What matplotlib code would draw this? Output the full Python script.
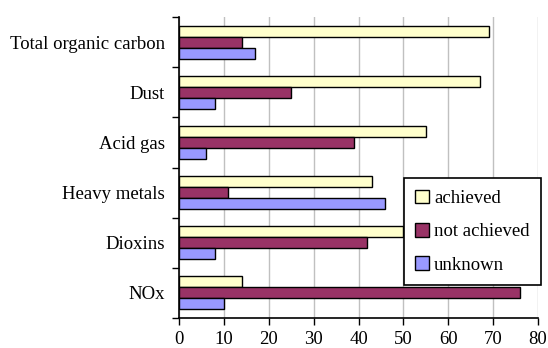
import matplotlib.pyplot as plt
import numpy as np

plt.rcParams['font.family'] = ['Liberation Serif', 'DejaVu Serif']

categories = ["NOx", "Dioxins", "Heavy metals", "Acid gas", "Dust", "Total organic carbon"]
achieved = [14, 50, 43, 55, 67, 69]
not_achieved = [76, 42, 11, 39, 25, 14]
unknown = [10, 8, 46, 6, 8, 17]

y = np.arange(len(categories))
h = 0.22

fig = plt.figure(figsize=(5.48, 3.48), dpi=100)
ax = fig.add_axes([179/548, 1 - 318/348, 359/548, 301/348])

ax.barh(y + h, achieved, h, color="#FFFFCC", edgecolor="black", linewidth=1, label="achieved", zorder=3)
ax.barh(y, not_achieved, h, color="#993366", edgecolor="black", linewidth=1, label="not achieved", zorder=3)
ax.barh(y - h, unknown, h, color="#9999FF", edgecolor="black", linewidth=1, label="unknown", zorder=3)

ax.set_xlim(0, 80)
ax.set_ylim(-0.5, 5.5)
ax.set_xticks(np.arange(0, 81, 10))
ax.set_yticks(y)
ax.set_yticklabels(categories)
ax.set_yticks(np.arange(-0.5, 6, 1), minor=True)
ax.tick_params(axis="y", which="major", length=0, labelsize=13.5, pad=10)
ax.tick_params(axis="y", which="minor", length=5, direction="out", width=1)
ax.tick_params(axis="x", length=5, direction="out", labelsize=13.5, width=1, pad=4)

ax.grid(axis="x", color="#c0c0c0", linewidth=1, zorder=0)
ax.spines["top"].set_visible(False)
ax.spines["right"].set_visible(False)
ax.spines["left"].set_linewidth(1.2)
ax.spines["bottom"].set_linewidth(1.2)

leg = ax.legend(loc="lower right", bbox_to_anchor=(1.008, 0.11), fontsize=13.5,
                fancybox=False, edgecolor="black", framealpha=1,
                handlelength=0.75, handleheight=0.75, handletextpad=0.25,
                labelspacing=0.85, borderpad=0.6, borderaxespad=0)
leg.get_frame().set_linewidth(1.2)

fig.savefig("out.png", dpi=100)
